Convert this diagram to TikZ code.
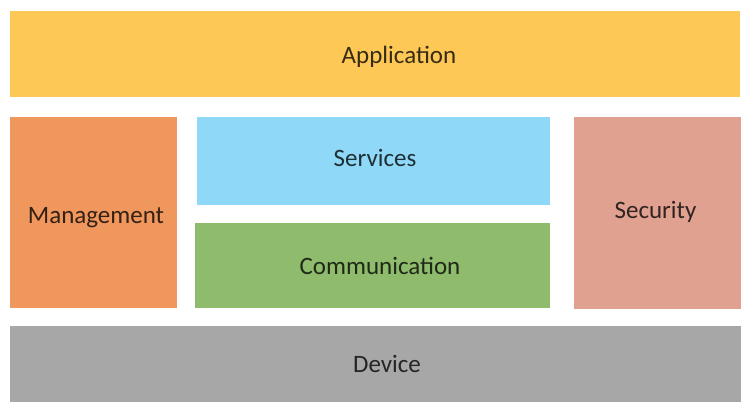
\documentclass[tikz,border=0pt]{standalone}
\usepackage{fontspec}
\setmainfont{Carlito}
\definecolor{appc}{HTML}{FEC857}
\definecolor{mgmtc}{HTML}{F0975E}
\definecolor{servc}{HTML}{8FD8F8}
\definecolor{commc}{HTML}{8FBB6C}
\definecolor{secc}{HTML}{E0A191}
\definecolor{devc}{HTML}{A7A7A7}
\begin{document}
\begin{tikzpicture}[x=1pt,y=-1pt,
  box/.style={draw=none,inner sep=0pt,outer sep=0pt,anchor=north west},
  lbl/.style={anchor=base,inner sep=0pt,text=black,text opacity=0.78,font=\fontsize{25}{30}\selectfont}]
\useasboundingbox[fill=white] (0,0) rectangle (744,410);
\node[box,fill=appc,minimum width=730pt,minimum height=86pt] (app) at (10,11) {};
\node[box,fill=mgmtc,minimum width=167pt,minimum height=191pt] (mgmt) at (10,117) {};
\node[box,fill=servc,minimum width=353pt,minimum height=88pt] (serv) at (197,117) {};
\node[box,fill=commc,minimum width=355pt,minimum height=85pt] (comm) at (195,223) {};
\node[box,fill=secc,minimum width=167pt,minimum height=192pt] (sec) at (574,117) {};
\node[box,fill=devc,minimum width=731pt,minimum height=76pt] (dev) at (10,326) {};
\node[lbl] (tapp) at (399,63) {Application};
\node[lbl] (tmgmt) at (96,223) {Management};
\node[lbl] (tserv) at (375,166.5) {Services};
\node[lbl] (tcomm) at (380,274) {Communication};
\node[lbl] (tsec) at (655.5,218) {Security};
\node[lbl] (tdev) at (387,372.5) {Device};
\end{tikzpicture}
\end{document}
